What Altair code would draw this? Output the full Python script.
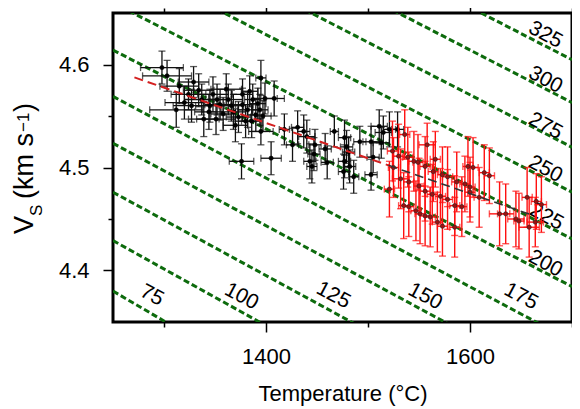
import altair as alt
import pandas as pd

# ---------------- data ----------------
# depth contours (km): Vs at T=1250 and at T=1700
depths = [75, 100, 125, 150, 175, 200, 225, 250, 275, 300, 325]
contour_v_1250 = [4.380, 4.429, 4.476, 4.5235, 4.569, 4.614, 4.660, 4.7056, 4.749, 4.793, 4.834]
contour_v_1700 = [4.119, 4.1815, 4.2334, 4.2835, 4.3314, 4.3844, 4.4307, 4.476, 4.5196, 4.563, 4.6046]

# contour label positions
label_T = [1288, 1376, 1466, 1556, 1650, 1674, 1675, 1674, 1674, 1674, 1674]
label_V = [4.3757, 4.3747, 4.3757, 4.3747, 4.3747, 4.4066, 4.452, 4.4983, 4.540, 4.585, 4.6287]

# black data (T, Vs, T error, Vs error)
blk_T = [1298, 1303, 1315, 1312, 1324, 1334, 1337, 1329, 1348, 1355, 1344, 1363, 1368, 1377, 1373,
         1382, 1387, 1390, 1384, 1394, 1377, 1395, 1399, 1408, 1395, 1418, 1376, 1405, 1351, 1361,
         1320, 1339, 1426, 1437, 1440, 1448, 1447, 1443, 1445, 1458, 1460, 1467, 1477, 1479, 1477,
         1476, 1481, 1482, 1486, 1492, 1503, 1505, 1503, 1511, 1515, 1513, 1521, 1529, 1431,
         1345, 1358, 1366, 1380, 1392, 1370, 1386, 1352, 1327, 1397]
blk_V = [4.597, 4.589, 4.579, 4.556, 4.571, 4.575, 4.566, 4.583, 4.571, 4.561, 4.554, 4.566, 4.554, 4.561, 4.549,
         4.556, 4.566, 4.551, 4.574, 4.556, 4.571, 4.587, 4.567, 4.567, 4.535, 4.537, 4.506, 4.509, 4.547, 4.576,
         4.563, 4.547, 4.522, 4.535, 4.530, 4.522, 4.513, 4.506, 4.501, 4.518, 4.505, 4.535, 4.529, 4.520, 4.506,
         4.496, 4.515, 4.501, 4.491, 4.525, 4.525, 4.510, 4.493, 4.540, 4.534, 4.524, 4.537, 4.537, 4.539,
         4.560, 4.552, 4.560, 4.545, 4.562, 4.541, 4.545, 4.566, 4.560, 4.550]
blk_Terr = [21, 24, 19, 26, 17, 15, 17, 15, 15, 15, 14, 14, 12, 10, 12,
            10, 8, 8, 8, 8, 10, 5, 12, 10, 12, 5, 12, 10, 19, 15,
            19, 15, 6, 6, 8, 6, 6, 6, 5, 6, 6, 4, 6, 6, 6,
            5, 6, 6, 5, 6, 8, 6, 6, 8, 8, 8, 6, 6, 6,
            14, 12, 12, 10, 8, 12, 10, 14, 18, 8]
blk_Verr = [0.016, 0.015, 0.017, 0.017, 0.015, 0.016, 0.015, 0.015, 0.017, 0.015, 0.017, 0.015, 0.017, 0.016, 0.015,
            0.017, 0.015, 0.016, 0.015, 0.015, 0.015, 0.017, 0.015, 0.017, 0.013, 0.015, 0.017, 0.016, 0.015, 0.015,
            0.016, 0.017, 0.016, 0.016, 0.016, 0.015, 0.016, 0.017, 0.016, 0.015, 0.016, 0.015, 0.017, 0.016, 0.016,
            0.017, 0.015, 0.016, 0.016, 0.015, 0.015, 0.015, 0.015, 0.016, 0.016, 0.015, 0.017, 0.017, 0.016,
            0.016, 0.016, 0.015, 0.016, 0.015, 0.016, 0.016, 0.015, 0.016, 0.015]

# red data
red_T = [1524, 1530, 1539, 1545, 1549, 1556, 1564, 1573, 1578, 1587, 1595, 1600, 1525, 1532, 1540,
         1550, 1556, 1563, 1571, 1578, 1585, 1592, 1535, 1540, 1547, 1551, 1556, 1561, 1568, 1573,
         1585, 1558, 1598, 1603, 1614, 1619, 1609, 1600, 1629, 1635, 1645, 1648, 1656, 1658, 1665,
         1670, 1664, 1536, 1566, 1521]
red_V = [4.516, 4.511, 4.510, 4.506, 4.505, 4.501, 4.496, 4.493, 4.491, 4.486, 4.484, 4.481, 4.500, 4.489, 4.486,
         4.482, 4.477, 4.474, 4.472, 4.469, 4.463, 4.462, 4.463, 4.462, 4.458, 4.455, 4.453, 4.452, 4.447, 4.443,
         4.442, 4.522, 4.501, 4.500, 4.495, 4.492, 4.471, 4.476, 4.455, 4.455, 4.450, 4.448, 4.471, 4.442, 4.467,
         4.464, 4.447, 4.532, 4.508, 4.479]
red_Terr = [5, 5, 5, 5, 5, 5, 5, 5, 5, 5, 5, 5, 5, 8, 5,
            5, 5, 5, 5, 5, 5, 5, 5, 5, 5, 5, 5, 5, 5, 5,
            5, 8, 5, 5, 5, 5, 5, 5, 10, 8, 8, 5, 5, 10, 5,
            5, 8, 5, 5, 5]
red_Verr = [0.029, 0.031, 0.029, 0.029, 0.027, 0.029, 0.029, 0.027, 0.029, 0.029, 0.027, 0.029, 0.029, 0.029, 0.029,
            0.027, 0.029, 0.029, 0.027, 0.029, 0.029, 0.029, 0.032, 0.029, 0.029, 0.029, 0.029, 0.029, 0.029, 0.029,
            0.029, 0.021, 0.029, 0.029, 0.027, 0.027, 0.029, 0.029, 0.031, 0.029, 0.027, 0.027, 0.029, 0.029, 0.027,
            0.027, 0.024, 0.024, 0.027, 0.027]

# fitted trend (dashed)
fit_red_T = [1271, 1520]
fit_red_V = [4.5875, 4.5021]
fit_dark_T = [1520, 1660]
fit_dark_V = [4.5021, 4.4541]

# ---------------- build tables ----------------
cont_rows = []
for d, a, b in zip(depths, contour_v_1250, contour_v_1700):
    cont_rows.append({"depth": d, "T": 1250, "V": a})
    cont_rows.append({"depth": d, "T": 1700, "V": b})
cont_df = pd.DataFrame(cont_rows)
lab_df = pd.DataFrame({"T": label_T, "V": label_V, "txt": [str(d) for d in depths]})
blk_df = pd.DataFrame({"T": blk_T, "V": blk_V, "Te": blk_Terr, "Ve": blk_Verr})
red_df = pd.DataFrame({"T": red_T, "V": red_V, "Te": red_Terr, "Ve": red_Verr})
fit1_df = pd.DataFrame({"T": fit_red_T, "V": fit_red_V})
fit2_df = pd.DataFrame({"T": fit_dark_T, "V": fit_dark_V})

FONT = "Liberation Sans"
xscale = alt.Scale(domain=[1250, 1700], nice=False, zero=False)
yscale = alt.Scale(domain=[4.35, 4.65], nice=False, zero=False)

xmaj = "datum.value % 200 === 0"
ymaj = "round(datum.value * 100) % 10 === 0"

x_axis_bottom = alt.Axis(
    values=[1300, 1400, 1500, 1600, 1700], format="d",
    labelExpr=f"{xmaj} ? datum.label : ''",
    tickSize={"condition": {"test": xmaj, "value": 10}, "value": 5},
    domain=False, grid=False, tickColor="black", tickWidth=1.5,
    labelFont=FONT, labelFontSize=22, labelColor="black", labelPadding=14,
    title="Temperature (°C)", titleFont=FONT, titleFontSize=22, titleFontWeight="normal",
    titleColor="black", titlePadding=16,
)
x_axis_top = alt.Axis(
    orient="top", values=[1300, 1400, 1500, 1600, 1700], labels=False,
    tickSize={"condition": {"test": xmaj, "value": 10}, "value": 5},
    domain=False, grid=False, tickColor="black", tickWidth=1.5, title=None,
)
y_axis_left = alt.Axis(
    orient="left", values=[4.4, 4.45, 4.5, 4.55, 4.6], format=".1f",
    labelExpr=f"{ymaj} ? datum.label : ''",
    tickSize={"condition": {"test": ymaj, "value": 10}, "value": 5},
    domain=False, grid=False, tickColor="black", tickWidth=1.5,
    labelFont=FONT, labelFontSize=22, labelColor="black", labelPadding=14,
    title=None,
)

contours = alt.Chart(cont_df).mark_line(
    clip=True, color="#0d6b0d", strokeWidth=3, strokeDash=[6, 3]
).encode(
    x=alt.X("T:Q", scale=xscale, axis=x_axis_bottom),
    y=alt.Y("V:Q", scale=yscale, axis=y_axis_left),
    detail="depth:N",
)

labels = alt.Chart(lab_df).mark_text(
    font=FONT, fontSize=21, color="black", angle=28, align="center", baseline="middle"
).encode(
    x=alt.X("T:Q", scale=xscale, axis=x_axis_top),
    y=alt.Y("V:Q", scale=yscale, axis=None),
    text="txt:N",
)


def err_layers(df, color, width, point_fill, point_stroke):
    base = alt.Chart(df).transform_calculate(
        tlo="datum.T - datum.Te", thi="datum.T + datum.Te",
        vlo="datum.V - datum.Ve", vhi="datum.V + datum.Ve",
    )
    xa = dict(scale=xscale, axis=None)
    ya = dict(scale=yscale, axis=None)
    hbar = base.mark_rule(color=color, strokeWidth=width, clip=True).encode(
        x=alt.X("tlo:Q", **xa), x2="thi:Q", y=alt.Y("V:Q", **ya))
    vbar = base.mark_rule(color=color, strokeWidth=width, clip=True).encode(
        x=alt.X("T:Q", **xa), y=alt.Y("vlo:Q", **ya), y2="vhi:Q")
    cap_l = base.mark_tick(color=color, thickness=width, size=7, orient="vertical", clip=True).encode(
        x=alt.X("tlo:Q", **xa), y=alt.Y("V:Q", **ya))
    cap_r = base.mark_tick(color=color, thickness=width, size=7, orient="vertical", clip=True).encode(
        x=alt.X("thi:Q", **xa), y=alt.Y("V:Q", **ya))
    cap_b = base.mark_tick(color=color, thickness=width, size=7, orient="horizontal", clip=True).encode(
        x=alt.X("T:Q", **xa), y=alt.Y("vlo:Q", **ya))
    cap_t = base.mark_tick(color=color, thickness=width, size=7, orient="horizontal", clip=True).encode(
        x=alt.X("T:Q", **xa), y=alt.Y("vhi:Q", **ya))
    pts = base.mark_circle(size=18, fill=point_fill, stroke=point_stroke, strokeWidth=0.6,
                           opacity=1, clip=True).encode(
        x=alt.X("T:Q", **xa), y=alt.Y("V:Q", **ya))
    return [hbar, vbar, cap_l, cap_r, cap_b, cap_t, pts]


blk_layers = err_layers(blk_df, "#111111", 1.3, "#000000", "#000000")
red_layers = err_layers(red_df, "#ff1010", 1.4, "#a01010", "#222222")

fit1 = alt.Chart(fit1_df).mark_line(color="#d42020", strokeWidth=2, strokeDash=[9, 5]).encode(
    x=alt.X("T:Q", scale=xscale, axis=None), y=alt.Y("V:Q", scale=yscale, axis=None))
fit2 = alt.Chart(fit2_df).mark_line(color="#333333", strokeWidth=1.6, strokeDash=[9, 5]).encode(
    x=alt.X("T:Q", scale=xscale, axis=None), y=alt.Y("V:Q", scale=yscale, axis=None))

# y-axis title with subscript / superscript
one = pd.DataFrame({"k": [0]})
def ttl(txt, size, xpx, ypx):
    return alt.Chart(one).mark_text(
        text=txt, font=FONT, fontSize=size, color="black", angle=270,
        align="left", baseline="alphabetic"
    ).encode(x=alt.value(xpx), y=alt.value(ypx))

ytitle = [
    ttl("V", 27, -80, 221),
    ttl("S", 17, -71, 203),
    ttl("(km s", 27, -80, 186),
    ttl("−1", 17, -84, 119),
    ttl(")", 27, -80, 99),
]

chart = alt.layer(
    contours, labels, *blk_layers, fit1, *red_layers, fit2, *ytitle
).resolve_axis(x="independent", y="independent").properties(
    width=459, height=309,
    autosize=alt.AutoSizeParams(type="none"),
    padding={"left": 105, "top": 5, "right": 0, "bottom": 84},
).configure_view(
    stroke="black", strokeWidth=3
)

chart.save("out.html", embed_options={"renderer": "svg", "actions": False})
